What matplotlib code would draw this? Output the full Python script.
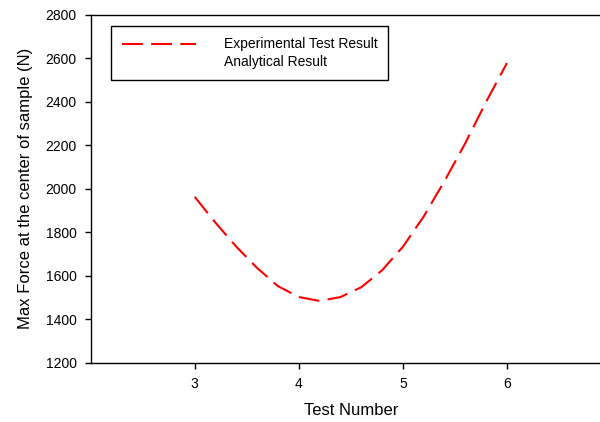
import matplotlib
matplotlib.use("Agg")
import matplotlib.pyplot as plt
from matplotlib.lines import Line2D

plt.rcParams["font.family"] = ["Liberation Sans", "DejaVu Sans"]

# values (test number vs max force, N)
test_number = [3.0, 3.2, 3.4, 3.6, 3.8, 4.0, 4.2, 4.4, 4.6, 4.8,
               5.0, 5.2, 5.4, 5.6, 5.8, 6.0]
max_force = [1963, 1844, 1734, 1636, 1553, 1503, 1485, 1503, 1548, 1626,
             1734, 1873, 2036, 2210, 2400, 2578]
x_ticks = [3, 4, 5, 6]
y_ticks = [1200, 1400, 1600, 1800, 2000, 2200, 2400, 2600, 2800]

fig = plt.figure(figsize=(6.0, 4.22), dpi=100)
ax = fig.add_axes([90.7 / 600, 1 - 363 / 422, (611 - 90.7) / 600, (363 - 14.7) / 422])

dash = (10, 4)
ax.plot(test_number, max_force, color="red", lw=1.5, ls=(0, dash))

ax.set_xlim(2, 7)
ax.set_ylim(1200, 2800)
ax.set_xticks(x_ticks)
ax.set_yticks(y_ticks)
ax.tick_params(direction="out", length=4, width=1, labelsize=10, colors="black")
ax.tick_params(axis="x", pad=6)
ax.tick_params(axis="y", pad=6)
for s in ax.spines.values():
    s.set_linewidth(1.0)

ax.set_xlabel("Test Number", fontsize=12, labelpad=9)
ax.set_ylabel("Max Force at the center of sample (N)", fontsize=12, labelpad=9)

handles = [Line2D([], [], color="red", lw=1.5, ls=(0, dash)),
           Line2D([], [], ls="none")]
leg = ax.legend(handles, ["Experimental Test Result", "Analytical Result"],
                loc="upper left", bbox_to_anchor=((111 - 90.7) / 520.3, 1 - (26.3 - 14.7) / 348.3),
                borderaxespad=0, fancybox=False, edgecolor="black", framealpha=1,
                fontsize=10, handlelength=5.3, handletextpad=2.0, borderpad=0.8,
                labelspacing=0.25)
leg.get_frame().set_linewidth(1.0)

fig.savefig("out.png", dpi=100)
